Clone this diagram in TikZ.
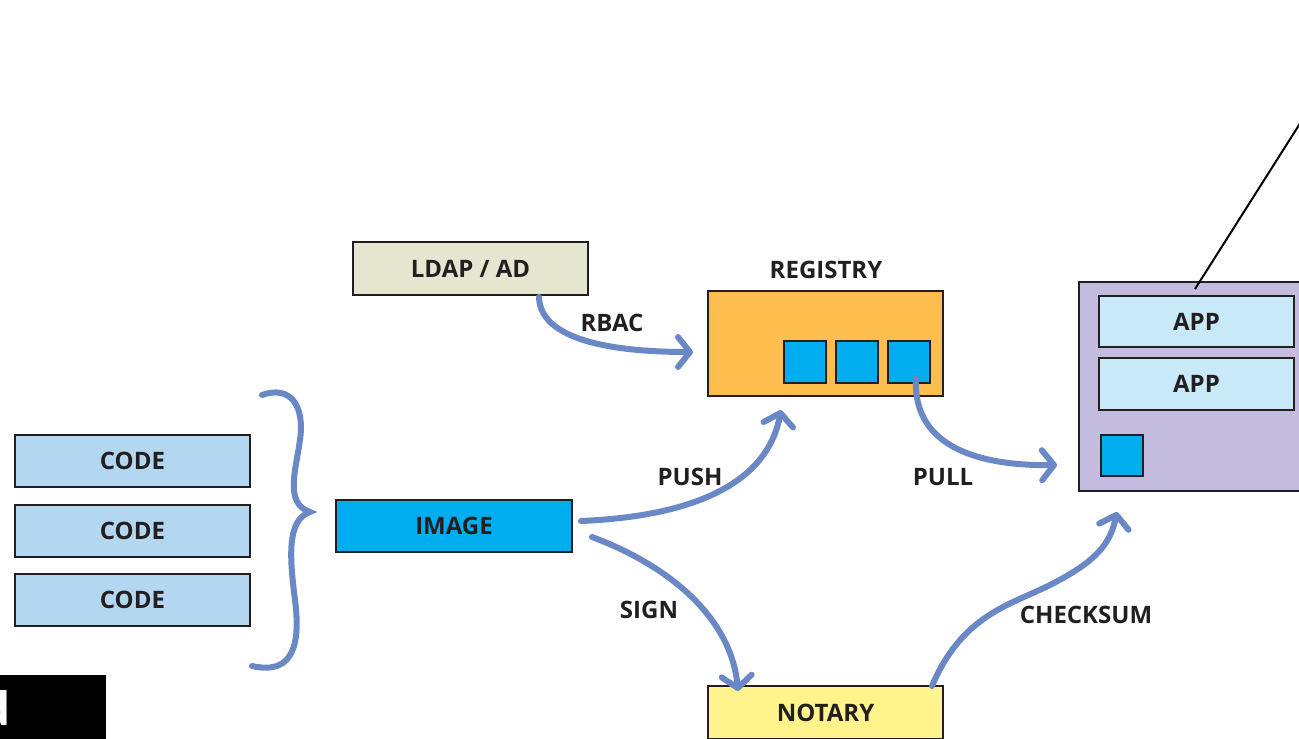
\documentclass[tikz,border=0pt]{standalone}
\usepackage{fontspec}
\setmainfont{Open Sans}
\usetikzlibrary{arrows.meta}
\definecolor{ink}{HTML}{231F20}
\definecolor{flow}{HTML}{6A87C6}
\definecolor{codefill}{HTML}{B3D6F1}
\definecolor{imagefill}{HTML}{00AEEF}
\definecolor{ldapfill}{HTML}{E6E5CF}
\definecolor{regfill}{HTML}{FDBE4D}
\definecolor{notfill}{HTML}{FFF38B}
\definecolor{hostfill}{HTML}{C3BCDE}
\definecolor{appfill}{HTML}{C8E9F8}
\tikzset{
  lbl/.style={font=\fontsize{24}{28}\selectfont\bfseries, text=ink, inner sep=0pt},
  box/.style={draw=ink, line width=2.4pt, inner sep=0pt, font=\fontsize{24}{28}\selectfont\bfseries, text=ink},
  layer/.style={box, minimum width=235pt, minimum height=52pt},
  blob/.style={draw=ink, line width=2.4pt, fill=imagefill, minimum width=42pt, minimum height=42pt, inner sep=0pt},
  flowarrow/.style={draw=flow, line width=6pt, line cap=round, line join=round,
    -{Straight Barb[length=12pt, width=30pt, line cap=round, line join=round]}},
  bracestroke/.style={draw=flow, line width=6pt, line cap=round}
}
\begin{document}
\begin{tikzpicture}[x=1pt, y=-1pt]
\useasboundingbox (0,0) rectangle (1299,739);
\clip (0,0) rectangle (1299,739);

% source layers
\node[layer, fill=codefill] (code1) at (132.5,461) {CODE};
\node[layer, fill=codefill] (code2) at (132.5,531) {CODE};
\node[layer, fill=codefill] (code3) at (132.5,600) {CODE};

% build output
\node[layer, fill=imagefill, minimum width=236pt] (image) at (454,526) {IMAGE};

% directory service
\node[layer, fill=ldapfill, minimum height=53pt] (ldap) at (470.5,268.5) {LDAP / AD};

% registry with stored images
\node[box, fill=regfill, minimum width=235pt, minimum height=105pt] (registry) at (825.5,343.5) {};
\node[lbl] (reglabel) at (826,270) {REGISTRY};
\node[blob] (img1) at (805,362) {};
\node[blob] (img2) at (857,362) {};
\node[blob] (img3) at (909,362) {};

% signing service
\node[layer, fill=notfill, minimum height=53pt] (notary) at (825.5,712.5) {NOTARY};

% runtime host
\node[box, fill=hostfill, minimum width=231pt, minimum height=209pt] (host) at (1194.5,386.5) {};
\node[layer, fill=appfill, minimum width=195pt, minimum height=51pt] (app1) at (1196.5,321.5) {APP};
\node[layer, fill=appfill, minimum width=195pt, minimum height=52pt] (app2) at (1196.5,384) {APP};
\node[blob, minimum height=41pt] (hostimg) at (1122,455.5) {};

% callout line
\coordinate (callA) at (1195,289);
\coordinate (callB) at (1310,107.7);
\draw[line width=2pt, black] (callA) -- (callB);

% corner tag
\node[fill=black, minimum width=106pt, minimum height=64pt, inner sep=0pt, anchor=north west] (tag) at (0,675) {};
\node[text=white, font=\fontsize{46}{50}\selectfont\bfseries, inner sep=0pt, anchor=base east] (tagtext) at (11,725) {d};

% grouping brace
\draw[bracestroke] (262,395) .. controls (290,385) and (305,405) .. (300,440)
  .. controls (296,470) and (284,503) .. (310,512)
  .. controls (286,520) and (290,560) .. (295,600)
  .. controls (300,640) and (296,676) .. (252,666);

% flow arrows
\coordinate (rbacS) at (539,297);
\coordinate (rbacT) at (693,352);
\draw[flowarrow] (rbacS) .. controls (540,345) and (630,352) .. (rbacT);
\node[lbl] (rbac) at (612,323) {RBAC};

\coordinate (pushS) at (581,521);
\coordinate (pushT) at (781,410);
\draw[flowarrow] (pushS) .. controls (700,516) and (768,480) .. (pushT);
\node[lbl] (push) at (690,477) {PUSH};

\coordinate (signS) at (592,537);
\coordinate (signT) at (738,691);
\draw[flowarrow] (signS) .. controls (680,570) and (732,625) .. (signT);
\node[lbl] (sign) at (649,610) {SIGN};

\coordinate (pullS) at (916,378);
\coordinate (pullT) at (1057,465);
\draw[flowarrow] (pullS) .. controls (912,450) and (985,466) .. (pullT);
\node[lbl] (pull) at (943,477) {PULL};

\coordinate (sumS) at (932,686);
\coordinate (sumT) at (1117,512);
\draw[flowarrow] (sumS) .. controls (962,615) and (1010,605) .. (1050,585)
  .. controls (1095,562) and (1110,545) .. (sumT);
\node[lbl] (sum) at (1086,615) {CHECKSUM};
\end{tikzpicture}
\end{document}
